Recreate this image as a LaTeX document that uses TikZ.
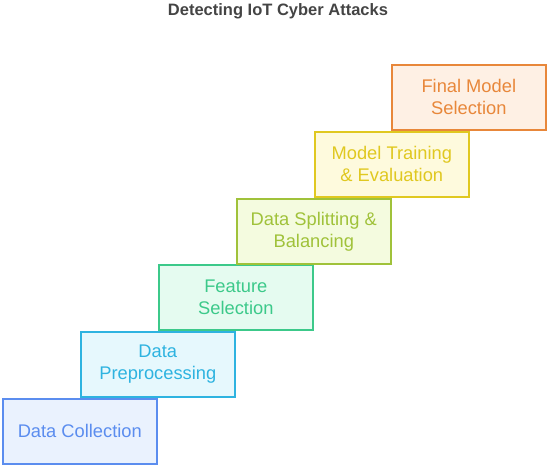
\documentclass[tikz,border=0pt]{standalone}
\usepackage{fontspec}
\setmainfont{Liberation Sans}
\definecolor{c1b}{HTML}{5B8DEF}\definecolor{c1f}{HTML}{EAF2FE}
\definecolor{c2b}{HTML}{2EB3E0}\definecolor{c2f}{HTML}{E6F8FD}
\definecolor{c3b}{HTML}{3CC98A}\definecolor{c3f}{HTML}{E5FBF0}
\definecolor{c4b}{HTML}{A0C23A}\definecolor{c4f}{HTML}{F4FBDF}
\definecolor{c5b}{HTML}{E0C820}\definecolor{c5f}{HTML}{FEFADD}
\definecolor{c6b}{HTML}{E8873A}\definecolor{c6f}{HTML}{FEF0E4}
\definecolor{titlec}{HTML}{444444}
\tikzset{
  stepbox/.style={draw=#1b, fill=#1f, text=#1b, line width=1.6pt, minimum width=154pt, minimum height=65pt, inner sep=0pt, align=center, font=\fontsize{18.3}{22}\selectfont, anchor=north west},
}
\begin{document}
\begin{tikzpicture}[x=1pt,y=-1pt]
\useasboundingbox (0,0) rectangle (548,464);
\node[font=\bfseries\fontsize{16.5}{19}\selectfont, text=titlec] (title) at (278,11) {Detecting IoT Cyber Attacks};
\node[stepbox=c1] (s1) at (2,398) {Data Collection};
\node[stepbox=c2] (s2) at (80,331) {Data\\Preprocessing};
\node[stepbox=c3] (s3) at (158,264) {Feature\\Selection};
\node[stepbox=c4] (s4) at (236,198) {Data Splitting \&\\Balancing};
\node[stepbox=c5] (s5) at (314,131) {Model Training\\\& Evaluation};
\node[stepbox=c6] (s6) at (391,64) {Final Model\\Selection};
\end{tikzpicture}
\end{document}
